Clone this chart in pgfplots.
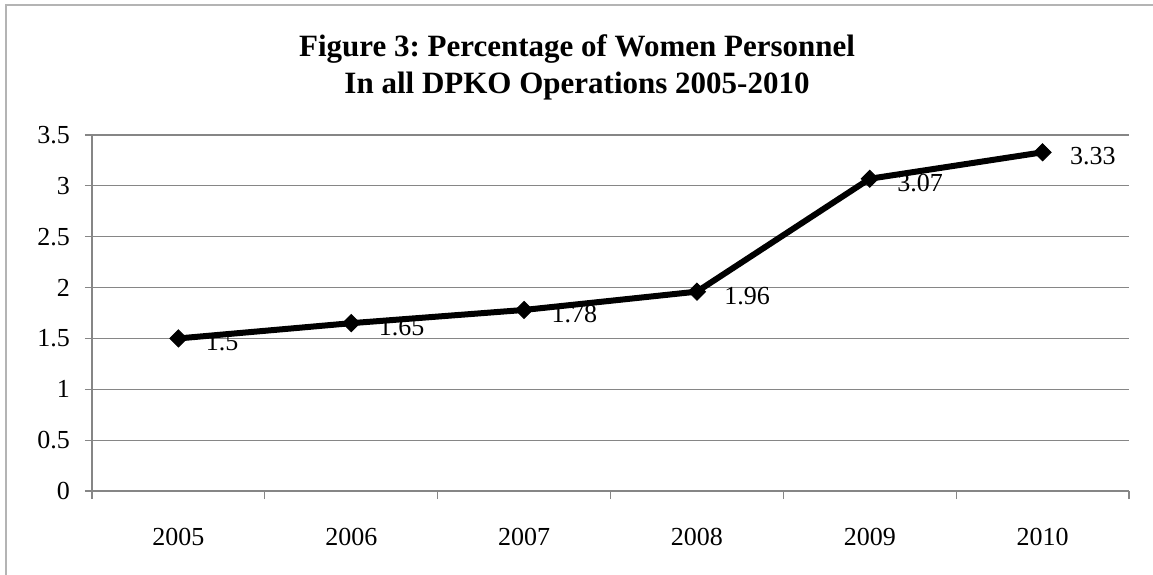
\documentclass[border=0pt]{standalone}
\usepackage{fontspec}
\setmainfont{Liberation Serif}
\usepackage{pgfplots}
\pgfplotsset{compat=1.18}
\definecolor{axgray}{RGB}{134,134,134}
\definecolor{framegray}{RGB}{180,180,180}
\frenchspacing
\begin{document}
\begin{tikzpicture}[x=1pt,y=1pt]
\useasboundingbox (0,0) rectangle (576.5,287);
\draw[color=framegray, line width=1pt] (3,-10) rectangle (600,284.5);
\node[anchor=base, font=\fontsize{15.5}{18}\selectfont\bfseries] at (288.5,258.5) {Figure 3: Percentage of Women Personnel};
\node[anchor=base, font=\fontsize{15.5}{18}\selectfont\bfseries] at (288.5,240) {In all DPKO Operations 2005-2010};
\begin{axis}[
  at={(46pt,41.5pt)}, anchor=south west,
  scale only axis, width=518.5pt, height=178pt,
  xmin=-0.5, xmax=5.5, ymin=0, ymax=3.5,
  axis x line*=bottom, axis y line*=left,
  axis line style={axgray, line width=0.6pt},
  xtick={0,1,2,3,4,5},
  xticklabels={2005,2006,2007,2008,2009,2010},
  minor xtick={-0.5,0.5,1.5,2.5,3.5,4.5,5.5},
  ytick={0,0.5,1,1.5,2,2.5,3,3.5},
  tick align=outside,
  major tick length=3.5pt, minor tick length=4pt,
  major x tick style={draw=none},
  every tick/.style={axgray, line width=0.6pt},
  minor tick style={axgray, line width=0.6pt},
  ymajorgrids, grid style={axgray, line width=0.6pt},
  /pgf/number format/assume math mode=true,
  /pgf/number format/fixed,
  ticklabel style={font=\fontsize{13}{15}\selectfont, black},
  xticklabel style={yshift=-11.5pt},
  yticklabel style={xshift=-4pt},
  clip=false,
  nodes near coords,
  every node near coord/.style={anchor=west, inner sep=0pt, xshift=13.5pt, yshift=-2pt, font=\fontsize{13}{15}\selectfont, black},
]
\addplot[black, line width=3pt, mark=square*, mark size=3pt,
  mark options={rotate=45, line width=0.5pt, fill=black}]
  coordinates {(0,1.5) (1,1.65) (2,1.78) (3,1.96) (4,3.07) (5,3.33)};
\end{axis}
\end{tikzpicture}
\end{document}
